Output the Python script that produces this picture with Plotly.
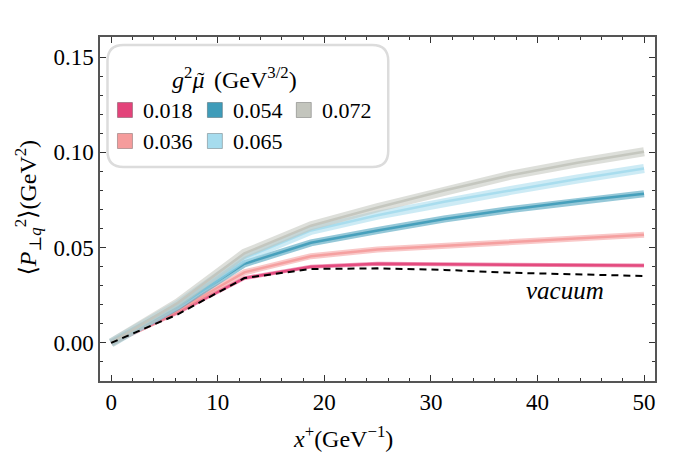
import plotly.graph_objects as go

# ---- data ----
x_vals = [0, 6.25, 12.5, 18.75, 25, 31.25, 37.5, 43.75, 50]
vacuum = [0, 0.015, 0.034, 0.0388, 0.0391, 0.0383, 0.0368, 0.0360, 0.0351]
s_0018 = [0, 0.016, 0.034, 0.040, 0.0415, 0.0413, 0.0410, 0.0408, 0.0406]
s_0036 = [0, 0.017, 0.037, 0.0455, 0.049, 0.051, 0.053, 0.055, 0.0567]
s_0054 = [0, 0.019, 0.0415, 0.0525, 0.059, 0.065, 0.070, 0.0745, 0.0783]
s_0065 = [0, 0.020, 0.0445, 0.059, 0.067, 0.074, 0.080, 0.086, 0.0915]
s_0072 = [0, 0.021, 0.047, 0.0615, 0.071, 0.080, 0.088, 0.0945, 0.1003]
labels = ["0.018", "0.036", "0.054", "0.065", "0.072"]
series = [s_0018, s_0036, s_0054, s_0065, s_0072]
colors = ["#E3437A", "#F59C9C", "#3F9CB9", "#A6DCEE", "#C3C5BD"]
band_w = [4, 6, 7, 9, 9]
x_ticks = [0, 10, 20, 30, 40, 50]
y_ticks = [0.0, 0.05, 0.10, 0.15]

FONT = "Liberation Serif, Times New Roman, DejaVu Serif, serif"
W, H = 694, 458
L, R, T, B = 99.5, 655, 37, 381

fig = go.Figure()
for lab, ys, c, bw in zip(labels, series, colors, band_w):
    fig.add_trace(go.Scatter(x=x_vals, y=ys, mode="lines", line=dict(color=c, width=bw),
                             opacity=0.55, showlegend=False, hoverinfo="skip"))
    fig.add_trace(go.Scatter(x=x_vals, y=ys, mode="lines", line=dict(color=c, width=2.5),
                             opacity=0.9, name=lab, showlegend=False))
fig.add_trace(go.Scatter(x=x_vals, y=vacuum, mode="lines",
                         line=dict(color="black", width=2, dash="7px,5px"), showlegend=False))

def px(p):
    return (p - L) / (R - L)

def py(p):
    return (B - p) / (B - T)

def txt(text, x, y, size, xanchor="center", yanchor="middle", angle=0):
    return dict(text=text, x=px(x), y=py(y), xref="paper", yref="paper", showarrow=False,
                xanchor=xanchor, yanchor=yanchor, textangle=angle,
                font=dict(family=FONT, size=size, color="black"))

# legend box (rounded)
x0, x1, y0, y1, r = 107, 388, 45, 167, 16
rx = r / (R - L)
ry = r / (B - T)
X0, X1, Y0, Y1 = px(x0), px(x1), py(y1), py(y0)
path = (f"M {X0+rx},{Y0} L {X1-rx},{Y0} Q {X1},{Y0} {X1},{Y0+ry} "
        f"L {X1},{Y1-ry} Q {X1},{Y1} {X1-rx},{Y1} L {X0+rx},{Y1} "
        f"Q {X0},{Y1} {X0},{Y1-ry} L {X0},{Y0+ry} Q {X0},{Y0} {X0+rx},{Y0} Z")
shapes = [dict(type="path", path=path, xref="paper", yref="paper",
               line=dict(color="#DCDCDC", width=2.5), fillcolor="white", layer="above")]
annotations = [
    txt("<i>g</i><sup>2</sup><i>μ</i>", 206, 78, 24, xanchor="right"),
    txt("(GeV<sup>3/2</sup>)", 212, 78, 24, xanchor="left"),
    txt("˜", 201, 79, 22),
]
pos = [(117, 110), (117, 141), (207, 110), (207, 141), (296, 110)]
for (sx, sy), lab, c in zip(pos, labels, colors):
    shapes.append(dict(type="rect", xref="paper", yref="paper",
                       x0=px(sx), x1=px(sx + 15), y0=py(sy + 7.5), y1=py(sy - 7.5),
                       fillcolor=c, line=dict(color="rgba(0,0,0,0.25)", width=1), layer="above"))
    annotations.append(txt(lab, sx + 24, sy, 22, xanchor="left"))
annotations.append(dict(text="<i>vacuum</i>", x=42.6, y=0.0277, xref="x", yref="y", showarrow=False,
                        font=dict(family=FONT, size=25, color="black")))
# axis titles
annotations.append(txt("⟨<i>P</i><sub>⊥<i>q</i></sub><sup>2</sup>⟩(GeV<sup>2</sup>)", 27, 208, 24, angle=-90))
annotations.append(txt("<i>x</i><sup>+</sup>(GeV<sup>−1</sup>)", 343, 437, 24))

axis_common = dict(showline=True, linecolor="#555555", linewidth=1.5, mirror="ticks",
                   ticks="inside", ticklen=6, tickwidth=1.2, tickcolor="#333333",
                   showgrid=False, zeroline=False,
                   tickfont=dict(family=FONT, size=23, color="black"))
fig.update_layout(
    width=W, height=H,
    margin=dict(l=L, r=W - R, t=T, b=H - B),
    paper_bgcolor="white", plot_bgcolor="white",
    font=dict(family=FONT, size=22, color="black"),
    xaxis=dict(range=[-1.05, 51.03], tickvals=x_ticks,
               minor=dict(ticks="inside", ticklen=3, dtick=2, tick0=0, tickcolor="#333333"),
               **axis_common),
    yaxis=dict(range=[-0.02, 0.1605], tickvals=y_ticks, tickformat=".2f",
               minor=dict(ticks="inside", ticklen=3, dtick=0.01, tick0=0, tickcolor="#333333"),
               **axis_common),
    shapes=shapes, annotations=annotations,
)
fig.write_html("out.html", config={"displayModeBar": False},
               post_script="document.body.style.margin='0';document.body.style.padding='0';")
